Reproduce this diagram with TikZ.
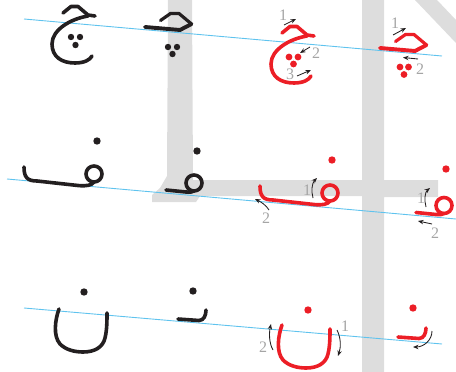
\documentclass[tikz,border=0pt]{standalone}
\usepackage{fontspec}
\setmainfont{Liberation Serif}
\usetikzlibrary{arrows.meta}
\definecolor{lred}{RGB}{236,30,38}
\definecolor{lblack}{RGB}{35,31,32}
\definecolor{bggray}{RGB}{221,221,221}
\definecolor{lblue}{RGB}{95,195,238}
\definecolor{lgray}{RGB}{165,165,165}
\newcommand\gJimIso{%
 \draw[stroke] (63,13) -- (71,6.5) -- (78,6.5) -- (88,15) -- (95,16);
 \draw[stroke] (88,16) .. controls (70,19) and (52,30) .. (52,44) .. controls (52,57) and (62,63) .. (75,63) .. controls (84,63) and (90,60) .. (92,56);
}
\newcommand\gJimIni{%
 \draw[stroke, line width=3.2pt] (160.5,20.5) -- (170.5,13.5) -- (179,13.5) -- (191.5,24);
 \draw[stroke, line width=3.9pt] (191.5,24) -- (180,30) -- (145,27);
}
\newcommand\gFaIso{%
 \draw[stroke] (24,167) .. controls (24,177) and (27,181) .. (37,181) -- (78,185.5) .. controls (87,186.5) and (92,185) .. (94,182);
 \draw[stroke] (94,174) circle (8);
}
\newcommand\gFaIni{%
 \draw[stroke] (166,190) -- (186,192) .. controls (190,192.3) and (193,192) .. (194,191);
 \draw[stroke] (194,183) circle (8);
}
\newcommand\gNunIso{%
 \draw[stroke] (59,309) .. controls (55,320) and (53,336) .. (60,344) .. controls (66,350) and (75,352) .. (83,352) .. controls (95,352) and (103,347) .. (105,338) .. controls (107,330) and (107,320) .. (107,313);
}
\newcommand\gNunIni{%
 \draw[stroke] (178,319) -- (199,320.5) .. controls (204,320.5) and (206,315) .. (206,310);
}
\begin{document}
\begin{tikzpicture}[x=1pt,y=-1pt,
  stroke/.style={line width=3.6pt, line cap=round, line join=round},
  guide/.style={draw=lblue, line width=0.9pt},
  arr/.style={draw=lblack, line width=0.85pt, -{Stealth[length=5.5pt,width=4.4pt]}},
  num/.style={text=lgray, font=\fontsize{16}{16}\selectfont, inner sep=0pt}]
\useasboundingbox (0,0) rectangle (456,372);
% background strokes
\fill[bggray] (168,0) -- (192,0) -- (193,180) -- (362,180) -- (362,0) -- (384,0) -- (384,180) -- (438,180) -- (438,197) -- (384,197) -- (384,372) -- (362,372) -- (362,196) -- (200,196) -- (196,202) -- (152,202) -- (152,195) -- (160,188) -- (167,176) -- cycle;
\fill[bggray] (415,0) -- (437,0) -- (456,20) -- (456,43) -- cycle;
% guide lines
\coordinate (g1a) at (24,19); \coordinate (g1b) at (442,56);
\coordinate (g2a) at (7,179); \coordinate (g2b) at (456,219);
\coordinate (g3a) at (24,308); \coordinate (g3b) at (442,344);
\draw[guide] (g1a) -- (g1b);
\draw[guide] (g2a) -- (g2b);
\draw[guide] (g3a) -- (g3b);
% black letters
\begin{scope}[color=lblack]
 \gJimIso \gJimIni \gFaIso \gFaIni \gNunIso \gNunIni
 \fill (71,37) circle (3.2) (80,37) circle (3.2) (75.5,45) circle (3.2);
 \fill (168,47) circle (3.2) (177,47) circle (3.2) (172.5,54) circle (3.2);
 \fill (97,141) circle (3.7) (197,151) circle (3.7);
 \fill (84,292) circle (3.7) (193,291) circle (3.7);
\end{scope}
% red letters
\begin{scope}[color=lred]
 \begin{scope}[shift={(219,20)}] \gJimIso \end{scope}
 \begin{scope}[shift={(235,21)}] \gJimIni \end{scope}
 \begin{scope}[shift={(236,19)}] \gFaIso \end{scope}
 \begin{scope}[shift={(250,22.5)}] \gFaIni \end{scope}
 \begin{scope}[shift={(223,16)}] \gNunIso \end{scope}
 \begin{scope}[shift={(220,18)}] \gNunIni \end{scope}
 \fill (289,57) circle (3.4) (298,57) circle (3.4) (293.5,64) circle (3.4);
 \fill (400,67) circle (3.4) (408.5,67) circle (3.4) (404,74.5) circle (3.4);
 \fill (332,160) circle (3.7) (446,169) circle (3.7);
 \fill (308,310) circle (3.7) (413,308) circle (3.7);
\end{scope}
% arrows and numbers: jim
\coordinate (a1s) at (284,25); \coordinate (a1e) at (296,19);
\draw[arr] (a1s) -- (a1e);
\node[num] (n1) at (283,15) {1};
\coordinate (a2s) at (310,47); \coordinate (a2e) at (300,53);
\draw[arr] (a2s) -- (a2e);
\node[num] (n2) at (316,53) {2};
\coordinate (a3s) at (297,76); \coordinate (a3e) at (311,70);
\draw[arr] (a3s) -- (a3e);
\node[num] (n3) at (290,74) {3};
\coordinate (b1s) at (393,35); \coordinate (b1e) at (406,28);
\draw[arr] (b1s) -- (b1e);
\node[num] (m1) at (395,23) {1};
\coordinate (b2s) at (418,59); \coordinate (b2e) at (403,57.5);
\draw[arr] (b2s) -- (b2e);
\node[num] (m2) at (420,69) {2};
% fa
\coordinate (c1s) at (313,198); \coordinate (c1e) at (317,178);
\draw[arr] (c1s) .. controls (311,191) and (312,183) .. (c1e);
\node[num] (p1) at (307,190) {1};
\coordinate (c2s) at (269,210); \coordinate (c2e) at (255,199);
\draw[arr] (c2s) .. controls (266,205) and (261,202) .. (c2e);
\node[num] (p2) at (266,218) {2};
\coordinate (d1s) at (426,207); \coordinate (d1e) at (430,188);
\draw[arr] (d1s) .. controls (424,200) and (425,192) .. (d1e);
\node[num] (q1) at (421,198) {1};
\coordinate (d2s) at (432,224); \coordinate (d2e) at (418,221);
\draw[arr] (d2s) -- (d2e);
\node[num] (q2) at (435,233) {2};
% nun
\coordinate (e1s) at (337,330); \coordinate (e1e) at (338,356);
\draw[arr] (e1s) .. controls (341,338) and (341,347) .. (e1e);
\node[num] (r1) at (345,326) {1};
\coordinate (e2s) at (273,350); \coordinate (e2e) at (271,324);
\draw[arr] (e2s) .. controls (269,343) and (269,333) .. (e2e);
\node[num] (r2) at (263,347) {2};
\coordinate (f1s) at (432,331); \coordinate (f1e) at (413,347);
\draw[arr] (f1s) .. controls (432,340) and (424,347) .. (f1e);
\end{tikzpicture}
\end{document}
